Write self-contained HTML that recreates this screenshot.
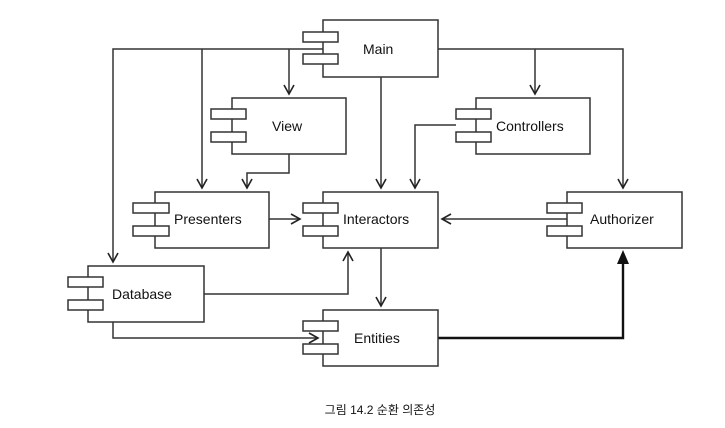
<!DOCTYPE html>
<html><head><meta charset="utf-8"><style>
html,body{margin:0;padding:0;background:#fff;}
svg{display:block;}
text{font-family:"Liberation Sans",Arial,sans-serif;font-size:14px;fill:#111;}
</style></head><body>
<svg width="725" height="428" viewBox="0 0 725 428" xmlns="http://www.w3.org/2000/svg">
<defs>
<marker id="a" markerWidth="12" markerHeight="12" refX="10" refY="6" orient="auto" markerUnits="userSpaceOnUse">
<path d="M1,1 L10,6 L1,11" fill="none" stroke="#222" stroke-width="1.6"/>
</marker>
<marker id="b" markerWidth="12" markerHeight="14" refX="10" refY="6" orient="auto" markerUnits="userSpaceOnUse">
<path d="M0,0 L11,6 L0,12 Z" fill="#111"/>
</marker>
</defs>
<g fill="none" stroke="#333" stroke-width="1.5">
<!-- Main connectors -->
<path d="M323,49 H113 V262" marker-end="url(#a)"/>
<path d="M202,49 V188" marker-end="url(#a)"/>
<path d="M289,49 V94" marker-end="url(#a)"/>
<path d="M381,77 V188" marker-end="url(#a)"/>
<path d="M438,49 H623 V188" marker-end="url(#a)"/>
<path d="M535,49 V94" marker-end="url(#a)"/>
<!-- View to Presenters -->
<path d="M289,154 V173 H247 V188" marker-end="url(#a)"/>
<!-- Controllers to Interactors -->
<path d="M456,125 H415 V188" marker-end="url(#a)"/>
<!-- Presenters to Interactors -->
<path d="M269,219 H300" marker-end="url(#a)"/>
<!-- Authorizer to Interactors -->
<path d="M567,219 H442" marker-end="url(#a)"/>
<!-- Interactors to Entities -->
<path d="M381,248 V306" marker-end="url(#a)"/>
<!-- Database to Interactors -->
<path d="M204,294 H348 V252" marker-end="url(#a)"/>
<!-- Database to Entities -->
<path d="M113,322 V338 H318" marker-end="url(#a)"/>
</g>
<path d="M438,338 H623 V262" fill="none" stroke="#111" stroke-width="2.4"/>
<path d="M617,264 L623,250 L629,264 Z" fill="#111"/>
<g fill="#fff" stroke="#333" stroke-width="1.5">
<!-- Main -->
<rect x="323" y="20" width="115" height="57"/>
<rect x="303" y="32" width="35" height="10"/><rect x="303" y="54" width="35" height="10"/>
<!-- View -->
<rect x="232" y="98" width="114" height="56"/>
<rect x="211" y="109" width="35" height="10"/><rect x="211" y="132" width="35" height="10"/>
<!-- Controllers -->
<rect x="476" y="98" width="114" height="56"/>
<rect x="456" y="109" width="35" height="10"/><rect x="456" y="132" width="35" height="10"/>
<!-- Presenters -->
<rect x="155" y="192" width="114" height="56"/>
<rect x="133" y="203" width="36" height="10"/><rect x="133" y="226" width="36" height="10"/>
<!-- Interactors -->
<rect x="323" y="192" width="115" height="56"/>
<rect x="303" y="203" width="35" height="10"/><rect x="303" y="226" width="35" height="10"/>
<!-- Authorizer -->
<rect x="567" y="192" width="115" height="56"/>
<rect x="547" y="203" width="35" height="10"/><rect x="547" y="226" width="35" height="10"/>
<!-- Database -->
<rect x="88" y="266" width="116" height="56"/>
<rect x="68" y="277" width="35" height="10"/><rect x="68" y="300" width="35" height="10"/>
<!-- Entities -->
<rect x="323" y="310" width="115" height="56"/>
<rect x="303" y="321" width="35" height="10"/><rect x="303" y="344" width="35" height="10"/>
</g>
<text x="363" y="54">Main</text>
<text x="272" y="131">View</text>
<text x="496" y="131">Controllers</text>
<text x="174" y="224">Presenters</text>
<text x="343" y="224">Interactors</text>
<text x="590" y="224">Authorizer</text>
<text x="112" y="299">Database</text>
<text x="354" y="343">Entities</text>
<text x="380" y="414" text-anchor="middle" style="font-family:'Liberation Sans','Noto Sans CJK KR',sans-serif;font-size:12px;">그림 14.2 순환 의존성</text>
</svg>
</body></html>
